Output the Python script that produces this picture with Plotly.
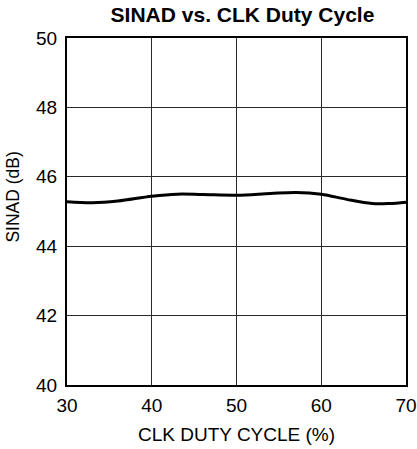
import plotly.graph_objects as go

duty = [30, 33, 36, 40, 43, 46, 50, 54, 57, 60, 63, 66, 68, 70]
sinad = [45.28, 45.25, 45.3, 45.44, 45.5, 45.49, 45.47, 45.52, 45.55, 45.5, 45.35, 45.23, 45.23, 45.27]

x_ticks = [30, 40, 50, 60, 70]
y_ticks = [40, 42, 44, 46, 48, 50]

fig = go.Figure()
fig.add_trace(go.Scatter(x=duty, y=sinad, mode="lines",
                         line=dict(color="black", width=3, shape="spline", smoothing=1.0),
                         showlegend=False, hoverinfo="skip"))

font = "Liberation Sans, Arial, sans-serif"
fig.update_layout(
    width=417, height=449,
    margin=dict(l=67, r=11, t=38, b=64, autoexpand=False),
    paper_bgcolor="white", plot_bgcolor="white",
    title=dict(text="<b>SINAD vs. CLK Duty Cycle</b>", xref="container", x=0.5815, xanchor="center",
               yref="container", y=0.968, yanchor="middle",
               font=dict(family=font, size=21, color="black")),
    font=dict(family=font, color="black"),
    annotations=[
        dict(text="SINAD (dB)", xref="paper", yref="paper", x=0, y=0.540, xshift=-54,
             xanchor="center", yanchor="middle", textangle=-90, showarrow=False,
             font=dict(family=font, size=17.5, color="black")),
        dict(text="CLK DUTY CYCLE (%)", xref="paper", yref="paper", x=0.5, y=0, yshift=-49.5,
             xanchor="center", yanchor="middle", showarrow=False,
             font=dict(family=font, size=19, color="black")),
    ],
)
fig.update_xaxes(range=[30, 70], tickvals=x_ticks, showgrid=True, gridcolor="#2a2a2a", gridwidth=1,
                 showline=True, linecolor="black", linewidth=2, mirror=True,
                 ticks="outside", ticklen=0, ticklabelstandoff=2, automargin=False,
                 tickfont=dict(size=19), zeroline=False)
fig.update_yaxes(range=[40, 50], tickvals=y_ticks, showgrid=True, gridcolor="#2a2a2a", gridwidth=1,
                 showline=True, linecolor="black", linewidth=2, mirror=True,
                 ticks="outside", ticklen=0, ticklabelstandoff=4, automargin=False,
                 tickfont=dict(size=19), zeroline=False)

fig.write_html("out.html", config={"displayModeBar": False},
               post_script="document.body.style.margin='0';document.body.style.overflow='hidden';")
